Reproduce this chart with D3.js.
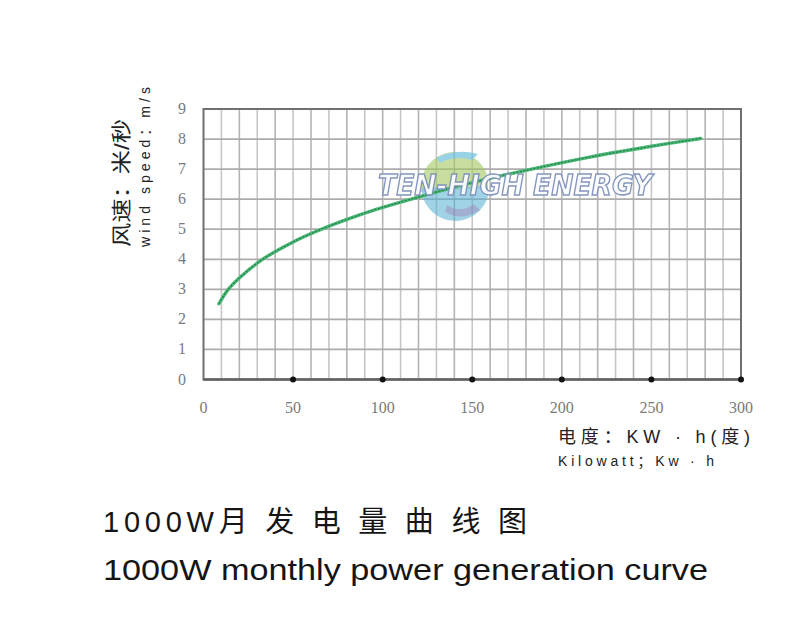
<!DOCTYPE html>
<html><head><meta charset="utf-8">
<script src="https://cdn.jsdelivr.net/npm/d3@7"></script>
<style>body{margin:0;background:#fff}</style>
</head><body>
<svg id="chart" width="800" height="629"></svg>
<script>
// Data
const energyKWh = [8.6, 13.7, 20, 32.5, 45, 59.4, 87.2, 120, 150, 180, 215.6, 250, 277.5];
const windSpeed = [2.52, 2.99, 3.38, 3.98, 4.42, 4.84, 5.48, 6.07, 6.55, 6.96, 7.40, 7.76, 8.02];
const xTicks = [0, 50, 100, 150, 200, 250, 300];
const yTicks = [0, 1, 2, 3, 4, 5, 6, 7, 8, 9];
const xMarkers = [50, 100, 150, 200, 250, 300];
const xGrid = d3.range(10, 300, 10);
const yLabelCN = "风速：米/秒";
const yLabelEN = "wind speed：m/s";
const xLabelCN = "电度：KW · h(度)";
const xLabelEN = "Kilowatt；Kw · h";
const titleCN = "1000W月 发 电 量 曲 线 图";
const titleEN = "1000W monthly power generation curve";
const watermark = "TEN-HIGH ENERGY";

const svg = d3.select("#chart");
svg.append("rect").attr("width", 800).attr("height", 629).attr("fill", "#fff");

const x = d3.scaleLinear().domain([0, 300]).range([203.5, 741]);
const y = d3.scaleLinear().domain([0, 9]).range([379.5, 109]);

const defs = svg.append("defs");
defs.append("filter").attr("id", "soft").append("feGaussianBlur").attr("stdDeviation", 0.5);

// grid
const g = svg.append("g").attr("filter", "url(#soft)");
g.selectAll(".vg").data(xGrid).join("line")
  .attr("x1", d => x(d)).attr("x2", d => x(d))
  .attr("y1", y(9)).attr("y2", y(0))
  .attr("stroke", (d, i) => i % 2 ? "#b4b4b4" : "#c6c6c6").attr("stroke-width", 1.6);
g.selectAll(".hg").data(yTicks.slice(1, 9)).join("line")
  .attr("x1", x(0)).attr("x2", x(300))
  .attr("y1", d => y(d)).attr("y2", d => y(d))
  .attr("stroke", "#acacac").attr("stroke-width", 1.8);

// watermark logo (behind curve)
const wm = svg.append("g").attr("opacity", 0.7);
wm.append("path").attr("d", "M421,188 A34,34 0 0 1 488,178 L488,188 L421,192 Z").attr("fill", "#a3c760").attr("opacity", 0.85);
wm.append("path").attr("d", "M422,194 A34,34 0 0 0 488,196 L488,186 L422,188 Z").attr("fill", "#58b2d3").attr("opacity", 0.8);
wm.append("path").attr("d", "M436,158 Q455,148 478,154 L472,160 Q455,155 440,163 Z").attr("fill", "#6cc0dc");
wm.append("path").attr("d", "M445,212 Q462,222 480,210 L474,204 Q460,214 447,205 Z").attr("fill", "#7a8fc0");

// frame
svg.append("rect").attr("x", x(0)).attr("y", y(9))
  .attr("width", x(300) - x(0)).attr("height", y(0) - y(9))
  .attr("fill", "none").attr("stroke", "#707070").attr("stroke-width", 2);
svg.append("line").attr("x1", x(0)).attr("x2", x(300)).attr("y1", y(0)).attr("y2", y(0))
  .attr("stroke", "#606060").attr("stroke-width", 2.5);

// curve
const pts = energyKWh.map((k, i) => [k, windSpeed[i]]);
const line = d3.line().x(d => x(d[0])).y(d => y(d[1])).curve(d3.curveCatmullRom.alpha(0.5));
svg.append("path").datum(pts).attr("d", line).attr("fill", "none")
  .attr("stroke", "#4cb877").attr("stroke-width", 3.4).attr("stroke-linecap", "round");
svg.append("path").datum(pts).attr("d", line).attr("fill", "none")
  .attr("stroke", "#23804a").attr("stroke-width", 1.2).attr("stroke-dasharray", "2,1.5");

// watermark text (over curve)
svg.append("text").attr("x", 515).attr("y", 195).attr("text-anchor", "middle")
  .attr("font-family", "DejaVu Sans, Liberation Sans").attr("font-weight", "bold").attr("font-style", "italic")
  .attr("font-size", 28).attr("textLength", 274).attr("lengthAdjust", "spacingAndGlyphs")
  .attr("fill", "#fbfcfe").attr("stroke", "#7f92bb").attr("stroke-width", 1.4)
  .attr("opacity", 0.95).text(watermark);

// markers on x axis
svg.selectAll(".mk").data(xMarkers).join("circle")
  .attr("cx", d => x(d)).attr("cy", y(0)).attr("r", 3).attr("fill", "#111");

// tick labels
svg.selectAll(".yt").data(yTicks).join("text")
  .attr("x", 182).attr("y", d => y(d) + 5).attr("text-anchor", "middle")
  .attr("font-family", "Liberation Serif, serif").attr("font-size", 16).attr("fill", "#7a7a7a")
  .text(d => d);
svg.selectAll(".xt").data(xTicks).join("text")
  .attr("x", d => x(d)).attr("y", 413).attr("text-anchor", "middle")
  .attr("font-family", "Liberation Serif, serif").attr("font-size", 16).attr("fill", "#7a7a7a")
  .text(d => d);

// axis titles
const sansCN = "Liberation Sans, Noto Sans CJK SC, sans-serif";
svg.append("text").attr("transform", "translate(129,247) rotate(-90)")
  .attr("font-family", sansCN).attr("font-size", 20).attr("fill", "#222")
  .attr("textLength", 128).attr("lengthAdjust", "spacingAndGlyphs").text(yLabelCN);
svg.append("text").attr("transform", "translate(150,247) rotate(-90)")
  .attr("font-family", sansCN).attr("font-size", 14).attr("fill", "#222")
  .attr("textLength", 160).attr("lengthAdjust", "spacing").text(yLabelEN);

svg.append("text").attr("x", 558).attr("y", 443)
  .attr("font-family", sansCN).attr("font-size", 18).attr("fill", "#222")
  .attr("textLength", 192).attr("lengthAdjust", "spacing").text(xLabelCN);
svg.append("text").attr("x", 558).attr("y", 466)
  .attr("font-family", sansCN).attr("font-size", 14).attr("fill", "#222")
  .attr("textLength", 156).attr("lengthAdjust", "spacing").text(xLabelEN);

// titles
svg.append("text").attr("x", 103).attr("y", 532)
  .attr("font-family", sansCN).attr("font-size", 29).attr("fill", "#151515")
  .attr("textLength", 424).attr("lengthAdjust", "spacing").text(titleCN);
svg.append("text").attr("x", 103).attr("y", 580)
  .attr("font-family", sansCN).attr("font-size", 30).attr("fill", "#151515")
  .attr("textLength", 605).attr("lengthAdjust", "spacingAndGlyphs").text(titleEN);
</script>
</body></html>
